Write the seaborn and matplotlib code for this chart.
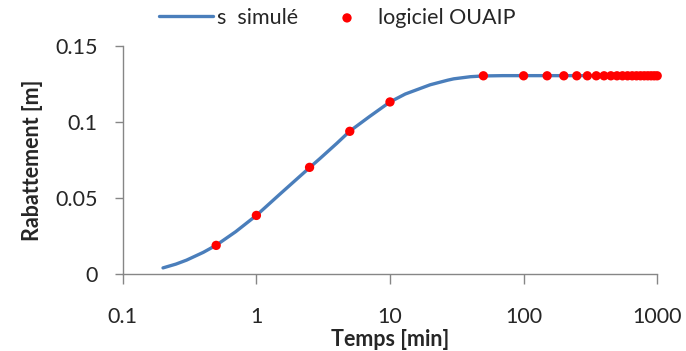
import numpy as np
import pandas as pd
import seaborn as sns
import matplotlib.pyplot as plt

# courbe simulée
t_sim = [0.2, 0.25, 0.3, 0.4, 0.5, 0.7, 1, 1.5, 2, 2.5, 3, 4, 5, 7, 10, 13, 17, 20, 27, 30, 40, 50, 70, 100, 1000]
s_sim = [0.0041, 0.0066, 0.0092, 0.0143, 0.0190, 0.0279, 0.0386, 0.0526, 0.0624, 0.0700, 0.0761, 0.0860, 0.0940, 0.1035,
         0.1132, 0.1184, 0.1222, 0.1245, 0.1275, 0.1284, 0.1298, 0.1303, 0.1305, 0.1305, 0.1305]

# points du logiciel OUAIP
t_ouaip = [0.5, 1, 2.5, 5, 10] + list(range(50, 1001, 50))
s_ouaip = [0.0189, 0.0386, 0.0702, 0.0939, 0.1132] + [0.1304] * 20

xticks = [0.1, 1, 10, 100, 1000]
xlabels = ["0.1", "1", "10", "100", "1000"]
yticks = [0, 0.05, 0.1, 0.15]
ylabels = ["0", "0.05", "0.1", "0.15"]

sns.set_style("white")
plt.rcParams['font.family'] = ['Lato', 'DejaVu Sans']

df_sim = pd.DataFrame({'t': t_sim, 's': s_sim})
df_pts = pd.DataFrame({'t': t_ouaip, 's': s_ouaip})

fig = plt.figure(figsize=(6.86, 3.51), dpi=100)
ax = fig.add_axes([0.179, 0.219, 0.779, 0.65])
ax.set_xscale('log')

sns.lineplot(x='t', y='s', data=df_sim, ax=ax, color='#4A7EBB', linewidth=2.4, label='s  simulé')
sns.scatterplot(x='t', y='s', data=df_pts, ax=ax, color='#FF0000', s=45, edgecolor='none',
                label='logiciel OUAIP', zorder=3, clip_on=False)

ax.set_xlim(0.1, 1000)
ax.set_ylim(0, 0.15)
ax.set_xticks(xticks, xlabels)
ax.set_yticks(yticks, ylabels)
ax.xaxis.set_minor_locator(plt.NullLocator())

gray = '#868686'
for side in ['top', 'right']:
    ax.spines[side].set_visible(False)
for side in ['left', 'bottom']:
    ax.spines[side].set_color(gray)
    ax.spines[side].set_linewidth(1.0)
ax.tick_params(axis='x', direction='out', length=7, width=1, color=gray, labelsize=15.5, pad=17, bottom=True)
ax.tick_params(axis='y', direction='out', length=6, width=1, color=gray, labelsize=15.5, pad=12, left=True)

ax.set_xlabel('Temps [min]', fontsize=15.5, fontweight='bold', labelpad=1)
ax.set_ylabel('Rabattement [m]', fontsize=15.5, fontweight='bold', labelpad=9)

ax.legend(loc='center', bbox_to_anchor=(0.492, 0.95), bbox_transform=fig.transFigure, ncol=2,
          frameon=False, fontsize=15.5, handlelength=2.5, handletextpad=0.2, columnspacing=1.0,
          borderaxespad=0)

fig.savefig('out.png', dpi=100)
